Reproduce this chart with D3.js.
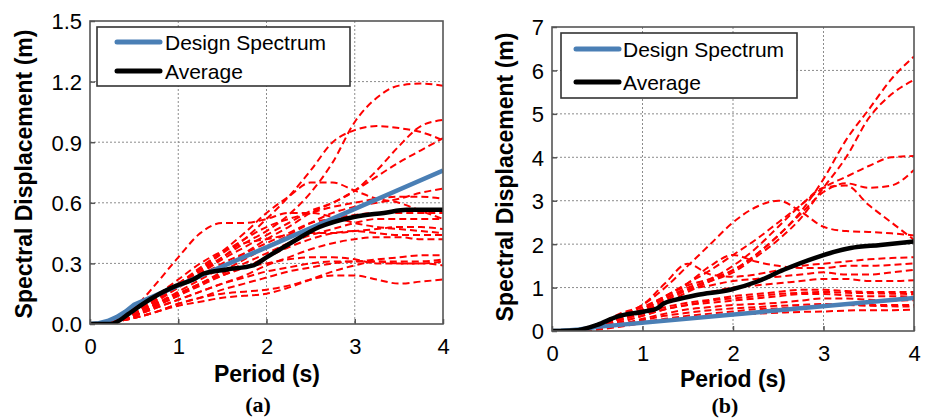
<!DOCTYPE html>
<html>
<head>
<meta charset="utf-8">
<script src="https://cdn.jsdelivr.net/npm/d3@7"></script>
<style>
body { margin: 0; background: #fff; }
</style>
</head>
<body>
<svg id="drawing_region"></svg>
<script>
// periods (s) at which each record is read
const periods = [0, 0.25, 0.5, 0.75, 1, 1.25, 1.5, 1.75, 2, 2.25, 2.5, 2.75, 3, 3.25, 3.5, 3.75, 4];

// (a) spectral displacement of each record (m)
const recordsA = [
    [0, 0.01, 0.06, 0.14, 0.20, 0.27, 0.33, 0.40, 0.46, 0.54, 0.65, 0.80, 1.00, 1.12, 1.18, 1.19, 1.18],
    [0, 0.01, 0.05, 0.12, 0.19, 0.26, 0.33, 0.42, 0.52, 0.63, 0.76, 0.90, 0.96, 0.98, 0.97, 0.95, 0.91],
    [0, 0.01, 0.04, 0.10, 0.16, 0.22, 0.28, 0.35, 0.42, 0.48, 0.55, 0.60, 0.66, 0.76, 0.88, 0.98, 1.01],
    [0, 0.01, 0.05, 0.12, 0.18, 0.25, 0.32, 0.38, 0.44, 0.50, 0.56, 0.60, 0.66, 0.73, 0.80, 0.86, 0.92],
    [0, 0.01, 0.06, 0.13, 0.20, 0.28, 0.36, 0.45, 0.55, 0.63, 0.70, 0.70, 0.66, 0.62, 0.60, 0.56, 0.52],
    [0, 0.01, 0.04, 0.10, 0.15, 0.20, 0.26, 0.32, 0.38, 0.44, 0.50, 0.55, 0.58, 0.60, 0.62, 0.65, 0.67],
    [0, 0.01, 0.05, 0.12, 0.19, 0.27, 0.35, 0.42, 0.48, 0.52, 0.55, 0.58, 0.60, 0.62, 0.63, 0.63, 0.62],
    [0, 0.02, 0.08, 0.20, 0.33, 0.45, 0.50, 0.50, 0.52, 0.55, 0.55, 0.53, 0.50, 0.48, 0.47, 0.46, 0.45],
    [0, 0.01, 0.05, 0.11, 0.18, 0.24, 0.30, 0.35, 0.40, 0.45, 0.50, 0.52, 0.54, 0.55, 0.55, 0.55, 0.55],
    [0, 0.01, 0.04, 0.09, 0.14, 0.20, 0.25, 0.30, 0.35, 0.40, 0.44, 0.47, 0.50, 0.52, 0.52, 0.52, 0.52],
    [0, 0.01, 0.06, 0.14, 0.22, 0.30, 0.36, 0.40, 0.42, 0.44, 0.45, 0.45, 0.46, 0.47, 0.48, 0.48, 0.47],
    [0, 0.01, 0.05, 0.10, 0.15, 0.20, 0.24, 0.28, 0.33, 0.38, 0.42, 0.45, 0.46, 0.45, 0.44, 0.44, 0.44],
    [0, 0.01, 0.04, 0.08, 0.12, 0.16, 0.20, 0.24, 0.29, 0.33, 0.37, 0.40, 0.42, 0.43, 0.43, 0.42, 0.42],
    [0, 0.01, 0.04, 0.08, 0.12, 0.16, 0.20, 0.23, 0.26, 0.28, 0.30, 0.31, 0.31, 0.32, 0.33, 0.34, 0.34],
    [0, 0.01, 0.03, 0.06, 0.10, 0.13, 0.17, 0.20, 0.23, 0.26, 0.28, 0.30, 0.31, 0.31, 0.31, 0.31, 0.32],
    [0, 0.01, 0.04, 0.09, 0.14, 0.19, 0.24, 0.28, 0.30, 0.32, 0.33, 0.33, 0.32, 0.30, 0.30, 0.30, 0.29],
    [0, 0.01, 0.03, 0.06, 0.10, 0.13, 0.15, 0.16, 0.17, 0.19, 0.22, 0.24, 0.24, 0.22, 0.20, 0.21, 0.22],
    [0, 0.01, 0.03, 0.06, 0.09, 0.11, 0.13, 0.14, 0.15, 0.18, 0.22, 0.26, 0.29, 0.31, 0.30, 0.30, 0.31]
];

// (b) spectral displacement of each record (m)
const recordsB = [
    [0, 0.02, 0.12, 0.30, 0.50, 0.80, 1.05, 1.20, 1.40, 1.75, 2.20, 2.75, 3.50, 4.40, 5.10, 5.80, 6.32],
    [0, 0.02, 0.10, 0.28, 0.48, 0.75, 1.00, 1.15, 1.35, 1.70, 2.10, 2.60, 3.30, 4.00, 4.90, 5.45, 5.78],
    [0, 0.02, 0.10, 0.25, 0.45, 0.70, 0.95, 1.20, 1.50, 1.90, 2.40, 2.90, 3.30, 3.55, 3.80, 4.00, 4.03],
    [0, 0.02, 0.10, 0.25, 0.42, 0.65, 0.90, 1.15, 1.40, 1.75, 2.20, 2.70, 3.20, 3.40, 3.30, 3.35, 3.71],
    [0, 0.02, 0.12, 0.35, 0.60, 1.00, 1.50, 2.00, 2.50, 2.85, 3.00, 2.75, 2.40, 2.30, 2.28, 2.25, 2.20],
    [0, 0.02, 0.10, 0.30, 0.50, 0.80, 1.10, 1.40, 1.75, 2.10, 2.50, 2.90, 3.30, 3.35, 2.90, 2.50, 2.10],
    [0, 0.02, 0.15, 0.40, 0.60, 1.10, 1.55, 1.30, 1.25, 1.30, 1.40, 1.50, 1.55, 1.60, 1.65, 1.68, 1.70],
    [0, 0.02, 0.12, 0.35, 0.55, 0.80, 1.10, 1.50, 1.75, 1.60, 1.50, 1.45, 1.45, 1.50, 1.50, 1.52, 1.56],
    [0, 0.02, 0.10, 0.30, 0.50, 0.75, 0.95, 1.05, 1.15, 1.20, 1.25, 1.30, 1.35, 1.30, 1.30, 1.35, 1.41],
    [0, 0.02, 0.10, 0.30, 0.45, 0.65, 0.80, 0.90, 1.00, 1.05, 1.10, 1.15, 1.20, 1.20, 1.15, 1.15, 1.17],
    [0, 0.02, 0.08, 0.25, 0.40, 0.55, 0.65, 0.72, 0.80, 0.85, 0.90, 0.95, 0.95, 0.92, 0.90, 0.90, 0.90],
    [0, 0.01, 0.07, 0.20, 0.35, 0.50, 0.60, 0.70, 0.75, 0.80, 0.85, 0.88, 0.90, 0.88, 0.87, 0.86, 0.85],
    [0, 0.01, 0.06, 0.20, 0.35, 0.50, 0.60, 0.65, 0.70, 0.75, 0.80, 0.85, 0.85, 0.82, 0.80, 0.80, 0.79],
    [0, 0.01, 0.05, 0.15, 0.28, 0.40, 0.50, 0.55, 0.60, 0.62, 0.65, 0.70, 0.75, 0.75, 0.72, 0.70, 0.71],
    [0, 0.01, 0.05, 0.15, 0.25, 0.35, 0.42, 0.48, 0.52, 0.55, 0.58, 0.60, 0.62, 0.60, 0.60, 0.60, 0.60],
    [0, 0.01, 0.04, 0.12, 0.20, 0.28, 0.35, 0.40, 0.45, 0.50, 0.52, 0.55, 0.58, 0.60, 0.58, 0.57, 0.56],
    [0, 0.01, 0.03, 0.10, 0.18, 0.25, 0.30, 0.35, 0.38, 0.40, 0.42, 0.44, 0.45, 0.47, 0.48, 0.48, 0.49]
];

// average spectra
const avgPeriodsA = [0, 0.23, 0.45, 0.6, 0.79, 0.98, 1.17, 1.29, 1.55, 1.85, 2.0, 2.27, 2.6, 2.99, 3.33, 3.59, 4.0];
const avgValuesA  = [0, 0.0, 0.054, 0.10, 0.15, 0.19, 0.22, 0.25, 0.27, 0.29, 0.33, 0.40, 0.48, 0.53, 0.55, 0.565, 0.565];
const avgPeriodsB = [0, 0.28, 0.5, 0.72, 1.02, 1.16, 1.24, 1.35, 1.6, 1.97, 2.27, 2.56, 2.9, 3.3, 3.63, 4.0];
const avgValuesB  = [0, 0.02, 0.14, 0.33, 0.45, 0.52, 0.64, 0.71, 0.83, 0.95, 1.14, 1.41, 1.68, 1.91, 1.98, 2.06];

// design spectrum (same for both panels)
const designPeriods = [0, 0.1, 0.2, 0.3, 0.4, 0.5, 4.0];
const designValues  = [0, 0.004, 0.015, 0.034, 0.061, 0.095, 0.76];

const xTicks = [0, 1, 2, 3, 4];
const yTicksA = [0, 0.3, 0.6, 0.9, 1.2, 1.5];
const yTicksB = [0, 1, 2, 3, 4, 5, 6, 7];
const legendLabels = ["Design Spectrum", "Average"];
const xLabel = "Period (s)";
const yLabel = "Spectral Displacement (m)";
const panelLabels = ["(a)", "(b)"];

const svg = d3.select('#drawing_region')
    .attr('width', 928)
    .attr('height', 419);

class SpectrumPlot {

    constructor( config ) {
        this.config = config;
        this.init();
        this.render();
    }

    init() {
        let self = this;
        const c = self.config;
        self.chart = svg.append('g')
            .attr('transform', `translate(${c.left}, ${c.top})`);
        self.inner_width = c.right - c.left;
        self.inner_height = c.bottom - c.top;

        self.xscale = d3.scaleLinear()
            .domain([0, 4])
            .range([0, self.inner_width]);
        self.yscale = d3.scaleLinear()
            .domain(c.ydomain)
            .range([self.inner_height, 0]);

        self.line = d3.line()
            .x( d => self.xscale(d[0]) )
            .y( d => self.yscale(d[1]) )
            .curve(d3.curveMonotoneX);

        self.straight = d3.line()
            .x( d => self.xscale(d[0]) )
            .y( d => self.yscale(d[1]) );

        self.chart.append('clipPath')
            .attr('id', c.id + '_clip')
            .append('rect')
            .attr('width', self.inner_width)
            .attr('height', self.inner_height);
    }

    render() {
        let self = this;
        const c = self.config;

        // grid
        const grid = self.chart.append('g');
        grid.selectAll('.vgrid')
            .data(xTicks.slice(1, -1))
            .enter().append('line')
            .attr('x1', d => self.xscale(d)).attr('x2', d => self.xscale(d))
            .attr('y1', 0).attr('y2', self.inner_height)
            .attr('stroke', '#8c8c8c').attr('stroke-width', 1)
            .attr('stroke-dasharray', '2,2');
        grid.selectAll('.hgrid')
            .data(c.yticks.slice(1, -1))
            .enter().append('line')
            .attr('x1', 0).attr('x2', self.inner_width)
            .attr('y1', d => self.yscale(d)).attr('y2', d => self.yscale(d))
            .attr('stroke', '#8c8c8c').attr('stroke-width', 1)
            .attr('stroke-dasharray', '2,2');

        // records
        const lines = self.chart.append('g')
            .attr('clip-path', `url(#${c.id}_clip)`);
        lines.selectAll('.record')
            .data(c.records)
            .enter().append('path')
            .attr('d', r => self.line(periods.map((p, i) => [p, r[i]])))
            .attr('fill', 'none')
            .attr('stroke', '#ff0000')
            .attr('stroke-width', 2)
            .attr('stroke-dasharray', '7,4');

        lines.append('path')
            .attr('d', self.straight(designPeriods.map((p, i) => [p, designValues[i]])))
            .attr('fill', 'none')
            .attr('stroke', '#4a7fb5')
            .attr('stroke-width', 4.5);

        lines.append('path')
            .attr('d', self.line(c.avgPeriods.map((p, i) => [p, c.avgValues[i]])))
            .attr('fill', 'none')
            .attr('stroke', '#000')
            .attr('stroke-width', 4.5)
            .attr('stroke-linejoin', 'round');

        // axes
        const xaxis = d3.axisBottom(self.xscale)
            .tickValues(xTicks)
            .tickSize(-5)
            .tickPadding(14)
            .tickFormat(d3.format('d'));
        const yaxis = d3.axisLeft(self.yscale)
            .tickValues(c.yticks)
            .tickSize(-5)
            .tickPadding(8)
            .tickFormat(c.yformat);

        const xg = self.chart.append('g')
            .attr('transform', `translate(0, ${self.inner_height})`)
            .call(xaxis);
        const yg = self.chart.append('g').call(yaxis);
        [xg, yg].forEach(g => {
            g.select('.domain').remove();
            g.selectAll('.tick line').attr('stroke', '#555').attr('stroke-width', 1.5);
            g.selectAll('.tick text')
                .attr('font-family', '"Liberation Sans", Arial, sans-serif')
                .attr('font-size', '22px')
                .attr('fill', '#000');
        });
        xg.selectAll('.tick text').attr('dy', c.xdy);
        yg.selectAll('.tick text').attr('dy', '0.36em');

        self.chart.append('rect')
            .attr('width', self.inner_width)
            .attr('height', self.inner_height)
            .attr('fill', 'none')
            .attr('stroke', '#555')
            .attr('stroke-width', 1.6);

        // legend
        const lg = svg.append('g')
            .attr('transform', `translate(${c.legend.x}, ${c.legend.y})`);
        lg.append('rect')
            .attr('width', c.legend.w)
            .attr('height', c.legend.h)
            .attr('fill', '#fff')
            .attr('stroke', '#333')
            .attr('stroke-width', 1.6);
        const colors = ['#4a7fb5', '#000'];
        legendLabels.forEach((label, i) => {
            const yy = c.legend.rows[i];
            lg.append('line')
                .attr('x1', c.legend.lx1).attr('x2', c.legend.lx2)
                .attr('y1', yy).attr('y2', yy)
                .attr('stroke', colors[i])
                .attr('stroke-width', 5)
                .attr('stroke-linecap', 'round');
            lg.append('text')
                .attr('x', c.legend.tx)
                .attr('y', yy)
                .attr('dy', '0.36em')
                .attr('font-family', '"Liberation Sans", Arial, sans-serif')
                .attr('font-size', '21px')
                .attr('fill', '#000')
                .text(label);
        });

        // titles
        svg.append('text')
            .attr('x', c.xtitle[0])
            .attr('y', c.xtitle[1])
            .attr('text-anchor', 'middle')
            .attr('font-family', '"Liberation Sans", Arial, sans-serif')
            .attr('font-size', '23px')
            .attr('font-weight', 'bold')
            .text(xLabel);

        svg.append('text')
            .attr('transform', `translate(${c.ytitle[0]}, ${c.ytitle[1]}) rotate(-90)`)
            .attr('text-anchor', 'middle')
            .attr('font-family', '"Liberation Sans", Arial, sans-serif')
            .attr('font-size', '23px')
            .attr('font-weight', 'bold')
            .text(yLabel);

        svg.append('text')
            .attr('x', c.label[0])
            .attr('y', c.label[1])
            .attr('text-anchor', 'middle')
            .attr('font-family', '"Liberation Serif", "Times New Roman", serif')
            .attr('font-size', '22px')
            .attr('font-weight', 'bold')
            .text(c.panelLabel);
    }
}

new SpectrumPlot({
    id: 'pa', left: 90, right: 443, top: 21, bottom: 324,
    ydomain: [0, 1.5], yticks: yTicksA, yformat: d3.format('.1f'),
    records: recordsA, avgPeriods: avgPeriodsA, avgValues: avgValuesA,
    xdy: '0.71em',
    legend: { x: 97, y: 27, w: 253, h: 59, rows: [15, 44], lx1: 20, lx2: 63, tx: 68 },
    xtitle: [267, 382], ytitle: [32, 174], label: [258, 412], panelLabel: panelLabels[0]
});

new SpectrumPlot({
    id: 'pb', left: 552, right: 914, top: 27, bottom: 331,
    ydomain: [0, 7], yticks: yTicksB, yformat: d3.format('d'),
    records: recordsB, avgPeriods: avgPeriodsB, avgValues: avgValuesB,
    xdy: '0.71em',
    legend: { x: 561, y: 33, w: 236, h: 65, rows: [16, 49], lx1: 15, lx2: 58, tx: 62 },
    xtitle: [733, 387], ytitle: [513, 177], label: [725, 413], panelLabel: panelLabels[1]
});
</script>
</body>
</html>
